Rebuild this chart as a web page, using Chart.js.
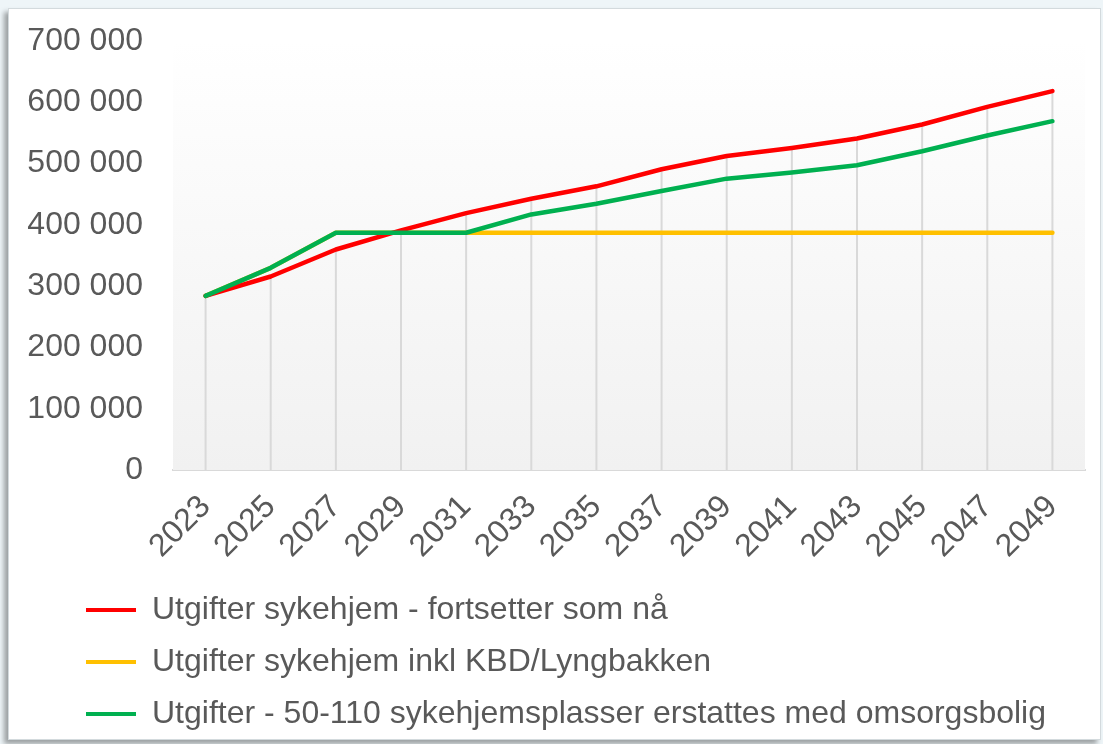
<!DOCTYPE html>
<html>
<head>
<meta charset="utf-8">
<script src="https://cdn.jsdelivr.net/npm/chart.js@4.4.1/dist/chart.umd.min.js"></script>
<style>
    html, body { margin: 0; padding: 0; background: #eef5f8; }
    #card {
        position: absolute; left: 8px; top: 8px; width: 1091px; height: 730px;
        background: #fff; border: 1px solid #d3dadd;
        box-shadow: -4px 4px 5px rgba(0, 0, 0, 0.35);
    }
    #wrap { position: absolute; left: 0; top: 0; width: 1103px; height: 744px; }
</style>
</head>
<body>
<div id="card"></div>
<div id="wrap"><canvas id="costChart"></canvas></div>
<script>
const years = ['2023', '2025', '2027', '2029', '2031', '2033', '2035', '2037', '2039', '2041', '2043', '2045', '2047', '2049'];
const fortsetter = [284100, 315700, 359800, 390900, 419200, 442700, 462900, 490700, 512400, 525500, 540900, 563800, 592600, 618200];
const lyngbakken = [284100, 329900, 387100, 387100, 387100, 387100, 387100, 387100, 387100, 387100, 387100, 387100, 387100, 387100];
const omsorgsbolig = [284100, 329900, 387100, 387100, 387100, 417000, 434500, 455200, 475400, 485300, 497200, 520100, 545800, 569200];
const seriesNames = [
    'Utgifter sykehjem - fortsetter som nå',
    'Utgifter sykehjem inkl KBD/Lyngbakken',
    'Utgifter - 50-110 sykehjemsplasser erstattes med omsorgsbolig'
];
const yTicks = { min: 0, max: 700000, step: 100000 };

const textColor = '#595959';
const font = { family: '"Liberation Sans", Arial, sans-serif', size: 32 };

// plot area gradient + drop lines from the first series
const plotDecor = {
    id: 'plotDecor',
    afterLayout(chart) {
        // legend sits further right than the y labels
        chart.legend.left += 46;
        chart.legend.right += 46;
    },
    beforeDatasetsDraw(chart) {
        const { ctx, chartArea: a, scales } = chart;
        ctx.save();
        const g = ctx.createLinearGradient(0, a.top, 0, a.bottom);
        g.addColorStop(0, '#ffffff');
        g.addColorStop(1, '#f1f1f1');
        ctx.fillStyle = g;
        ctx.fillRect(a.left, a.top - 12, a.right - a.left, a.bottom - a.top + 12);
        ctx.strokeStyle = '#d9d9d9';
        ctx.lineWidth = 2;
        fortsetter.forEach((v, i) => {
            const x = scales.x.getPixelForValue(i);
            ctx.beginPath();
            ctx.moveTo(x, scales.y.getPixelForValue(v));
            ctx.lineTo(x, a.bottom);
            ctx.stroke();
        });
        ctx.restore();
    }
};

function line(label, data, color, order) {
    return {
        label, data, order,
        borderColor: color, backgroundColor: color,
        borderWidth: 4.5, pointRadius: 0, tension: 0,
        borderCapStyle: 'round', borderJoinStyle: 'round'
    };
}

new Chart(document.getElementById('costChart'), {
    type: 'line',
    data: {
        labels: years,
        datasets: [
            line(seriesNames[0], fortsetter, '#ff0000', 2),
            line(seriesNames[1], lyngbakken, '#ffc000', 3),
            line(seriesNames[2], omsorgsbolig, '#00b050', 1)
        ]
    },
    options: {
        responsive: true,
        maintainAspectRatio: false,
        animation: false,
        layout: { padding: { left: 20, right: 18, top: 41, bottom: 4 } },
        scales: {
            x: {
                offset: true,
                grid: { display: false, drawTicks: false },
                border: { display: true, color: '#d9d9d9', width: 2 },
                ticks: { color: textColor, font, minRotation: 45, maxRotation: 45, padding: 18 },
                afterFit(s) { s.height = 104; s.paddingLeft = 0; s.paddingRight = 0; }
            },
            y: {
                min: yTicks.min, max: yTicks.max,
                grid: { display: false, drawTicks: false },
                border: { display: false },
                ticks: {
                    stepSize: yTicks.step, color: textColor, font, padding: 30,
                    callback: v => String(v).replace(/\B(?=(\d{3})+(?!\d))/g, ' ')
                },
                afterFit(s) { s.width = 153; s.paddingTop = 0; s.paddingBottom = 0; }
            }
        },
        plugins: {
            legend: {
                position: 'bottom',
                align: 'start',
                labels: {
                    color: textColor, font, padding: 20,
                    boxWidth: 50, boxHeight: 4,
                    sort: (a, b) => a.datasetIndex - b.datasetIndex,
                    generateLabels: c => Chart.defaults.plugins.legend.labels.generateLabels(c)
                        .map(l => ({ ...l, lineWidth: 0 }))
                }
            },
            tooltip: { enabled: false }
        }
    },
    plugins: [plotDecor]
});
</script>
</body>
</html>
